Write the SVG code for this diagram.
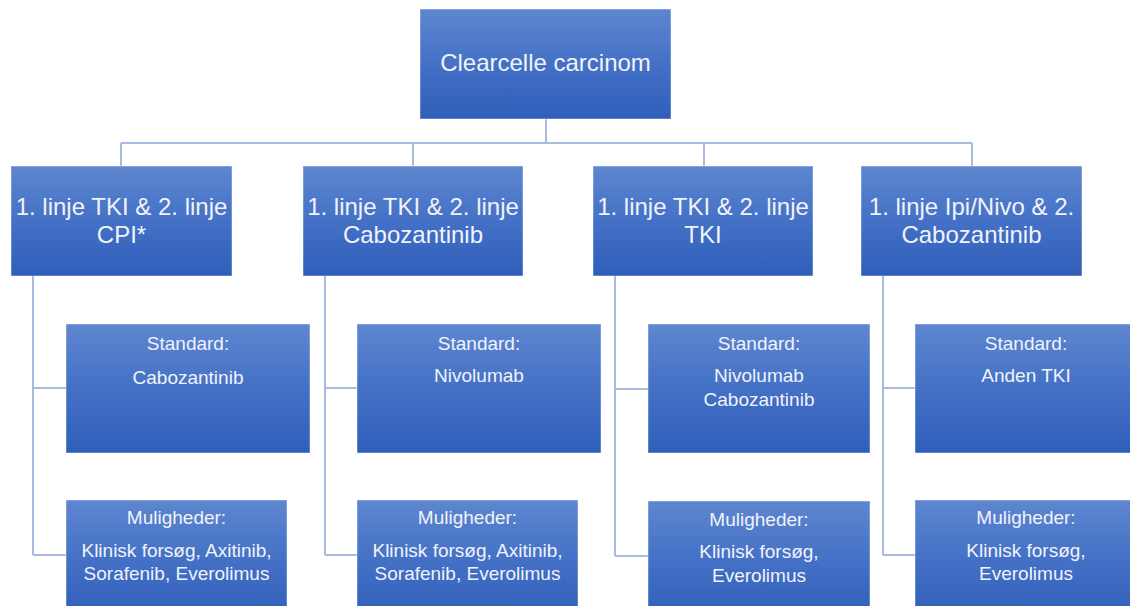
<svg xmlns="http://www.w3.org/2000/svg" width="1130" height="606" viewBox="0 0 1130 606">
  <defs>
    <linearGradient id="boxFill" x1="0" y1="0" x2="0" y2="1">
      <stop offset="0" stop-color="#5E86D0"/>
      <stop offset="0.5" stop-color="#4471C6"/>
      <stop offset="1" stop-color="#2F5EBA"/>
    </linearGradient>
    <style>
      .box { fill: url(#boxFill); stroke: #ffffff; stroke-opacity: 0.45; stroke-width: 1; }
      .link { fill: none; stroke: #A9BAE0; stroke-width: 2; }
      text { font-family: "Liberation Sans", Arial, sans-serif; fill: #F1F3FA; text-anchor: middle; }
      .t1 { font-size: 24px; }
      .t2 { font-size: 24px; }
      .t3 { font-size: 19px; }
    </style>
  </defs>
  <rect width="1130" height="606" fill="#ffffff"/>

  <!-- connectors -->
  <g id="connectors">
    <path class="link" d="M546 119 V143 M121 143 H972 M121 143 V166 M413 143 V166 M704 143 V166 M972 143 V166"/>
    <path class="link" d="M33 276 V555 M33 388 H66 M33 555 H66"/>
    <path class="link" d="M325 276 V555 M325 388 H357 M325 555 H357"/>
    <path class="link" d="M615 276 V556 M615 389 H648 M615 556 H648"/>
    <path class="link" d="M883 276 V555 M883 388 H915 M883 555 H915"/>
  </g>

  <!-- root -->
  <g id="root">
    <rect class="box" x="420" y="9" width="251" height="110"/>
    <text class="t1" x="545.5" y="71">Clearcelle carcinom</text>
  </g>

  <!-- second line strategies -->
  <g id="strategy1">
    <rect class="box" x="11" y="166" width="221" height="110"/>
    <text class="t2" x="121.5" y="214.5">1. linje TKI &amp; 2. linje</text>
    <text class="t2" x="121.5" y="243">CPI*</text>
  </g>
  <g id="strategy2">
    <rect class="box" x="303" y="166" width="220" height="110"/>
    <text class="t2" x="413" y="214.5">1. linje TKI &amp; 2. linje</text>
    <text class="t2" x="413" y="243">Cabozantinib</text>
  </g>
  <g id="strategy3">
    <rect class="box" x="593" y="166" width="220" height="110"/>
    <text class="t2" x="703" y="214.5">1. linje TKI &amp; 2. linje</text>
    <text class="t2" x="703" y="243">TKI</text>
  </g>
  <g id="strategy4">
    <rect class="box" x="861" y="166" width="221" height="110"/>
    <text class="t2" x="971.5" y="214.5">1. linje Ipi/Nivo &amp; 2.</text>
    <text class="t2" x="971.5" y="243">Cabozantinib</text>
  </g>

  <!-- standard treatments -->
  <g id="standard1">
    <rect class="box" x="66" y="324" width="244" height="129"/>
    <text class="t3" x="188" y="350">Standard:</text>
    <text class="t3" x="188" y="384">Cabozantinib</text>
  </g>
  <g id="standard2">
    <rect class="box" x="357" y="324" width="244" height="129"/>
    <text class="t3" x="479" y="350">Standard:</text>
    <text class="t3" x="479" y="382">Nivolumab</text>
  </g>
  <g id="standard3">
    <rect class="box" x="648" y="324" width="222" height="129"/>
    <text class="t3" x="759" y="350">Standard:</text>
    <text class="t3" x="759" y="382">Nivolumab</text>
    <text class="t3" x="759" y="406">Cabozantinib</text>
  </g>
  <g id="standard4">
    <rect class="box" x="915" y="324" width="222" height="129"/>
    <text class="t3" x="1026" y="350">Standard:</text>
    <text class="t3" x="1026" y="382">Anden TKI</text>
  </g>

  <!-- other options -->
  <g id="options1">
    <rect class="box" x="66" y="500" width="221" height="120"/>
    <text class="t3" x="176.5" y="524">Muligheder:</text>
    <text class="t3" x="176.5" y="557">Klinisk forsøg, Axitinib,</text>
    <text class="t3" x="176.5" y="580">Sorafenib, Everolimus</text>
  </g>
  <g id="options2">
    <rect class="box" x="357" y="500" width="221" height="120"/>
    <text class="t3" x="467.5" y="524">Muligheder:</text>
    <text class="t3" x="467.5" y="557">Klinisk forsøg, Axitinib,</text>
    <text class="t3" x="467.5" y="580">Sorafenib, Everolimus</text>
  </g>
  <g id="options3">
    <rect class="box" x="648" y="501" width="222" height="120"/>
    <text class="t3" x="759" y="526">Muligheder:</text>
    <text class="t3" x="759" y="558">Klinisk forsøg,</text>
    <text class="t3" x="759" y="582">Everolimus</text>
  </g>
  <g id="options4">
    <rect class="box" x="915" y="500" width="222" height="120"/>
    <text class="t3" x="1026" y="524">Muligheder:</text>
    <text class="t3" x="1026" y="557">Klinisk forsøg,</text>
    <text class="t3" x="1026" y="580">Everolimus</text>
  </g>
</svg>
